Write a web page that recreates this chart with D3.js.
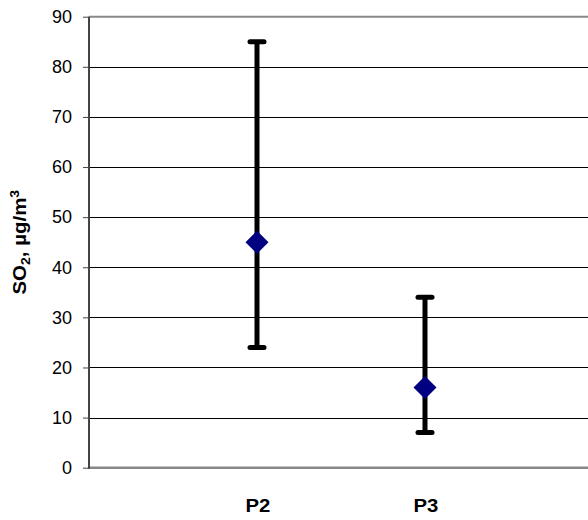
<!DOCTYPE html>
<html><head><meta charset="utf-8">
<script src="https://cdn.jsdelivr.net/npm/d3@7"></script>
<style>body{margin:0;background:#fff}svg{display:block}</style>
</head><body>
<svg id="c" width="588" height="520"></svg>
<script>
const categories = ["P2", "P3"];
const means = [45, 16];
const lows = [24, 7];
const highs = [85, 34];
const yTicks = [0, 10, 20, 30, 40, 50, 60, 70, 80, 90];

(function () {
const svg = d3.select("#c");
const mLeft = 89, mRight = 593, mTop = 16.7, mBottom = 467.7;
const font = "Liberation Sans, Arial, sans-serif";

const x = d3.scalePoint().domain(categories).range([mLeft, mRight]).padding(1);
const y = d3.scaleLinear().domain([0, 90]).range([mBottom, mTop]);

// gridlines
svg.append("g").selectAll("line").data(yTicks.filter(d => d > 0 && d < 90)).join("line")
  .attr("x1", mLeft).attr("x2", 588)
  .attr("y1", d => Math.round(y(d)) + 0.5).attr("y2", d => Math.round(y(d)) + 0.5)
  .attr("stroke", "#000").attr("stroke-width", 1);

// top border
svg.append("line").attr("x1", mLeft).attr("x2", 588)
  .attr("y1", y(90)).attr("y2", y(90)).attr("stroke", "#888").attr("stroke-width", 2);
// bottom axis
svg.append("line").attr("x1", mLeft).attr("x2", 588)
  .attr("y1", y(0)).attr("y2", y(0)).attr("stroke", "#888").attr("stroke-width", 2.5);

// y axis
const yAxis = d3.axisLeft(y).tickValues(yTicks).tickSize(6).tickPadding(11).tickFormat(d3.format("d"));
const ga = svg.append("g").attr("transform", `translate(${mLeft},0)`).call(yAxis);
ga.select(".domain").attr("stroke", "#444").attr("stroke-width", 2).attr("d", `M0,${y(0)+1}V${y(90)}`);
ga.selectAll(".tick line").attr("stroke", "#444");
ga.selectAll(".tick text").attr("font-family", font)
  .attr("font-size", 18).attr("fill", "#000");

// x labels
svg.append("g").selectAll("text").data(categories).join("text")
  .attr("transform", d => `translate(${x(d) + 1},512) scale(1.1,1)`)
  .attr("text-anchor", "middle")
  .attr("font-family", font).attr("font-weight", "bold")
  .attr("font-size", 18.5).text(d => d);

// y label
const yl = svg.append("text")
  .attr("transform", `translate(26,${(y(0)+y(90))/2}) rotate(-90) scale(1.17,1)`)
  .attr("text-anchor", "middle")
  .attr("font-family", font).attr("font-weight", "bold")
  .attr("font-size", 17.5);
yl.append("tspan").text("SO");
yl.append("tspan").attr("font-size", 12).attr("dy", 4).text("2");
yl.append("tspan").attr("dy", -4).text(", µg/m");
yl.append("tspan").attr("font-size", 12).attr("dy", -7).text("3");

// error bars
const eb = svg.append("g").selectAll("g").data(categories).join("g");
eb.append("line")
  .attr("x1", d => x(d)).attr("x2", d => x(d))
  .attr("y1", (d, i) => y(highs[i])).attr("y2", (d, i) => y(lows[i]))
  .attr("stroke", "#000").attr("stroke-width", 5);
eb.selectAll(".cap").data((d, i) => [[d, highs[i]], [d, lows[i]]]).join("line")
  .attr("x1", c => x(c[0]) - 7).attr("x2", c => x(c[0]) + 7)
  .attr("y1", c => y(c[1])).attr("y2", c => y(c[1]))
  .attr("stroke", "#000").attr("stroke-width", 5).attr("stroke-linecap", "round");

// diamonds
svg.append("g").selectAll("path").data(categories).join("path")
  .attr("transform", (d, i) => `translate(${x(d)},${y(means[i])})`)
  .attr("d", "M0,-11.5L11.5,0L0,11.5L-11.5,0Z")
  .attr("fill", "#000080");
})();
</script>
</body></html>
